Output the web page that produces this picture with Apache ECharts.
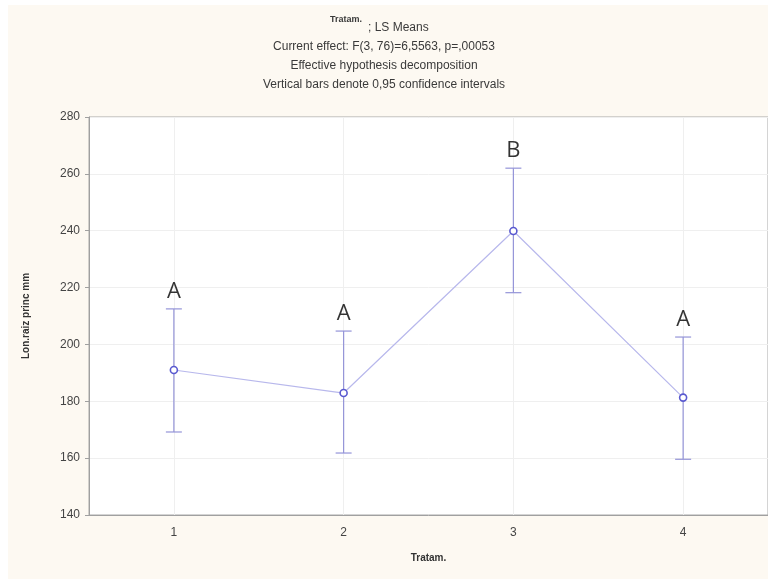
<!DOCTYPE html>
<html>
<head>
<meta charset="utf-8">
<script src="https://cdn.jsdelivr.net/npm/echarts@6/dist/echarts.min.js"></script>
<style>
  html, body { margin: 0; padding: 0; background: #ffffff; }
  #chart { width: 768px; height: 579px; }
</style>
</head>
<body>
<div id="chart"></div>
<script>
var treatments = ['1', '2', '3', '4'];
var means = [191.0, 182.9, 239.9, 181.3];
var upper = [212.5, 204.7, 262.0, 202.6];
var lower = [169.2, 161.8, 218.2, 159.6];
var groups = ['A', 'A', 'B', 'A'];
var yTicks = { min: 140, max: 280, step: 20 };

var titleLines = [
    'Current effect: F(3, 76)=6,5563, p=,00053',
    'Effective hypothesis decomposition',
    'Vertical bars denote 0,95 confidence intervals'
];

var myChart = echarts.init(document.getElementById('chart'));

var barData = treatments.map(function(t, i) {
    return [i, lower[i], upper[i]];
});

var letterData = treatments.map(function(t, i) {
    return [i, upper[i]];
});

var textGray = '#3a3a3a';
var titleFont = '12px "Liberation Sans", Arial';

var graphics = [
    {
        type: 'rect', z: -10, silent: true,
        shape: { x: 8, y: 5, width: 760, height: 574 },
        style: { fill: '#fdf9f2' }
    },
    {
        type: 'text', left: 330, top: 15,
        style: { text: 'Tratam.', font: 'bold 9px "Liberation Sans", Arial', fill: textGray }
    },
    {
        type: 'text', left: 368, top: 22,
        style: { text: '; LS Means', font: titleFont, fill: textGray }
    }
];

titleLines.forEach(function(line, idx) {
    graphics.push({
        type: 'text', left: 'center', top: 41 + idx * 19,
        style: { text: line, font: titleFont, fill: textGray }
    });
});

var option = {
    backgroundColor: '#ffffff',
    animation: false,
    graphic: graphics,
    grid: {
        left: 89,
        right: 0,
        top: 117,
        bottom: 64,
        show: true,
        backgroundColor: '#ffffff',
        borderColor: '#a8a8a8',
        borderWidth: 1
    },
    xAxis: {
        type: 'category',
        data: treatments,
        boundaryGap: true,
        name: 'Tratam.',
        nameLocation: 'middle',
        nameGap: 38,
        nameTextStyle: { fontFamily: 'Liberation Sans', fontWeight: 'bold', fontSize: 10, color: '#333' },
        axisLine: { lineStyle: { color: '#a0a0a0' } },
        axisTick: { alignWithLabel: true, length: 4, lineStyle: { color: '#a0a0a0' } },
        axisLabel: { fontFamily: 'Liberation Sans', fontSize: 12, color: '#444', margin: 12 },
        splitLine: { show: true, alignWithLabel: true, lineStyle: { color: '#efefef' } }
    },
    yAxis: {
        type: 'value',
        min: yTicks.min,
        max: yTicks.max,
        interval: yTicks.step,
        name: 'Lon.raiz princ mm',
        nameLocation: 'middle',
        nameGap: 58,
        nameTextStyle: { fontFamily: 'Liberation Sans', fontWeight: 'bold', fontSize: 10, color: '#333' },
        axisLine: { show: true, lineStyle: { color: '#a0a0a0' } },
        axisTick: { show: true, length: 4, lineStyle: { color: '#a0a0a0' } },
        axisLabel: { fontFamily: 'Liberation Sans', fontSize: 12, color: '#444', margin: 9 },
        splitLine: { show: true, lineStyle: { color: '#efefef' } }
    },
    series: [
        {
            name: 'ci',
            type: 'custom',
            z: 2,
            data: barData,
            renderItem: function(params, api) {
                var x = api.value(0);
                var top = api.coord([x, api.value(2)]);
                var bot = api.coord([x, api.value(1)]);
                var half = 8;
                var st = { stroke: '#9494d8', lineWidth: 1.2 };
                return {
                    type: 'group',
                    children: [
                        { type: 'line', shape: { x1: top[0], y1: top[1], x2: bot[0], y2: bot[1] }, style: st },
                        { type: 'line', shape: { x1: top[0] - half, y1: top[1], x2: top[0] + half, y2: top[1] }, style: st },
                        { type: 'line', shape: { x1: bot[0] - half, y1: bot[1], x2: bot[0] + half, y2: bot[1] }, style: st }
                    ]
                };
            }
        },
        {
            name: 'LS Means',
            type: 'line',
            z: 3,
            data: means,
            symbol: 'circle',
            symbolSize: 7,
            lineStyle: { color: '#b8b8ec', width: 1.2 },
            itemStyle: { color: '#ffffff', borderColor: '#5a5ad0', borderWidth: 1.6 }
        },
        {
            name: 'groups',
            type: 'scatter',
            z: 4,
            data: letterData,
            symbolSize: 0,
            label: {
                show: true,
                position: 'top',
                distance: 6,
                formatter: function(p) { return groups[p.dataIndex]; },
                fontFamily: 'Open Sans',
                fontSize: 22,
                color: '#000'
            }
        }
    ]
};

myChart.setOption(option);
</script>
</body>
</html>
